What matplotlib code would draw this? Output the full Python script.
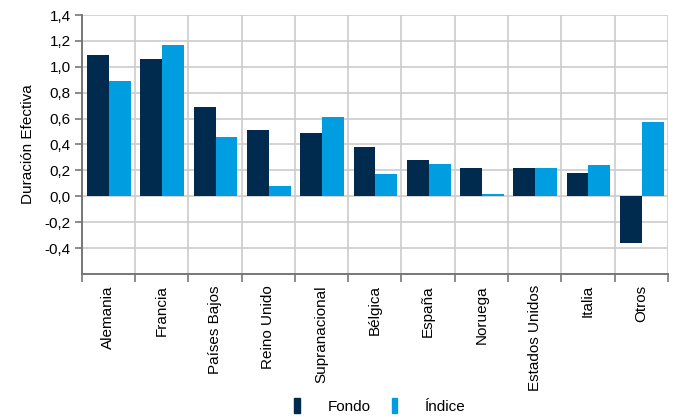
"""
Duración efectiva por país: fondo frente a índice.
"""

import numpy as np
import matplotlib
matplotlib.use('Agg')
import matplotlib.pyplot as plt
from matplotlib.patches import Patch
from matplotlib.ticker import FuncFormatter, FixedLocator

# Datos
paises = ['Alemania', 'Francia', 'Países Bajos', 'Reino Unido', 'Supranacional',
          'Bélgica', 'España', 'Noruega', 'Estados Unidos', 'Italia', 'Otros']
fondo = [1.09, 1.06, 0.69, 0.51, 0.49, 0.38, 0.28, 0.215, 0.215, 0.18, -0.36]
indice = [0.89, 1.17, 0.46, 0.08, 0.61, 0.17, 0.25, 0.015, 0.215, 0.245, 0.57]

COLOR_FONDO = '#002B4F'
COLOR_INDICE = '#009EE0'


def main():
    plt.rcParams['font.family'] = ['Liberation Sans', 'DejaVu Sans']
    plt.rcParams['font.size'] = 10.5

    fig = plt.figure(figsize=(6.76, 4.17), dpi=100)
    ax = fig.add_axes([0.121, 0.343, 0.867, 0.621])

    x = np.arange(len(paises))
    w = 0.41
    ax.bar(x - w / 2 + 0.01, fondo, w, color=COLOR_FONDO, zorder=3)
    ax.bar(x + w / 2 + 0.01, indice, w, color=COLOR_INDICE, zorder=3)

    ax.set_xlim(-0.5, len(paises) - 0.5)
    ax.set_ylim(-0.6, 1.4)

    # Eje y con coma decimal
    ax.yaxis.set_major_locator(FixedLocator(np.arange(-0.4, 1.41, 0.2)))
    ax.yaxis.set_major_formatter(FuncFormatter(lambda v, p: f'{v:.1f}'.replace('.', ',')))
    ax.set_ylabel('Duración Efectiva', fontsize=11, labelpad=7)

    # Categorías en el centro, líneas en los bordes
    ax.set_xticks(x)
    ax.set_xticklabels(paises, rotation=90, fontsize=11)
    ax.set_xticks(np.arange(-0.5, len(paises)), minor=True)
    ax.tick_params(axis='x', which='major', length=0, pad=8)
    ax.tick_params(axis='x', which='minor', length=6, width=1.2, color='#777777')
    ax.tick_params(axis='y', length=5, width=1.2, color='#777777', pad=3, labelsize=11)

    ax.grid(True, axis='y', color='#CCCCCC', linewidth=1.2, zorder=0)
    ax.grid(True, axis='x', which='minor', color='#CCCCCC', linewidth=1.2, zorder=0)

    for s in ['top', 'right']:
        ax.spines[s].set_visible(False)
    for s in ['left', 'bottom']:
        ax.spines[s].set_color('#777777')
        ax.spines[s].set_linewidth(1.4)

    handles = [Patch(color=COLOR_FONDO, label='Fondo'),
               Patch(color=COLOR_INDICE, label='Índice')]
    fig.legend(handles=handles, loc='center', bbox_to_anchor=(0.562, 0.026), ncol=2,
               frameon=False, handlelength=0.35, handleheight=1.1,
               handletextpad=1.8, columnspacing=1.4, fontsize=11)

    fig.savefig('out.png', dpi=100)


if __name__ == "__main__":
    main()
